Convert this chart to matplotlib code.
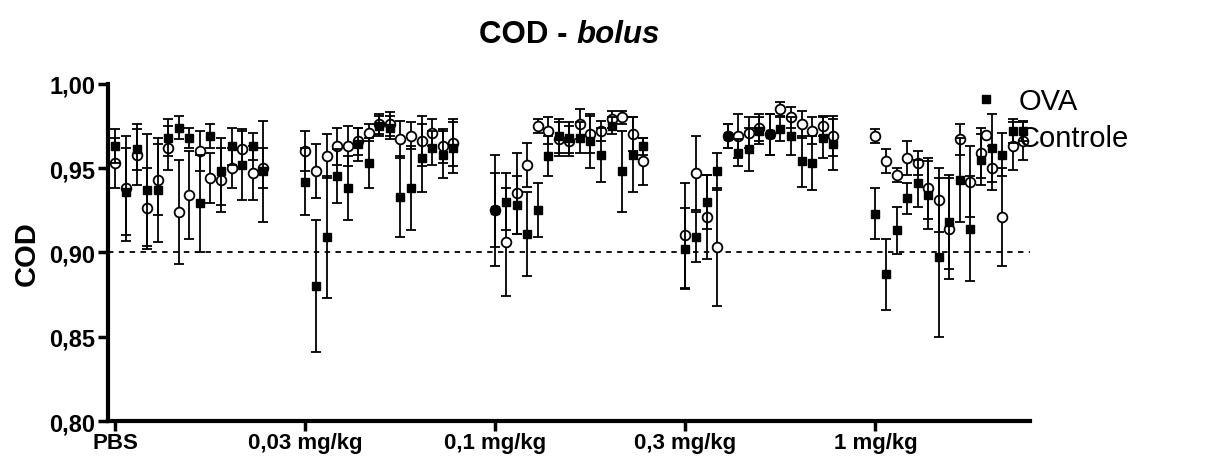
import numpy as np
import matplotlib.pyplot as plt

plt.rcParams['font.family'] = ['Liberation Sans', 'DejaVu Sans']

doses = ['PBS', '0,03 mg/kg', '0,1 mg/kg', '0,3 mg/kg', '1 mg/kg']
n_times = 15
gap = 3

# mean COD per time point, one row per dose
ova_mean = [
    [0.963, 0.936, 0.961, 0.937, 0.937, 0.968, 0.974, 0.968, 0.929, 0.969, 0.948, 0.963, 0.952, 0.963, 0.948],
    [0.942, 0.880, 0.909, 0.945, 0.938, 0.964, 0.953, 0.975, 0.974, 0.933, 0.938, 0.956, 0.962, 0.958, 0.962],
    [0.925, 0.930, 0.928, 0.911, 0.925, 0.957, 0.969, 0.968, 0.968, 0.966, 0.958, 0.975, 0.948, 0.958, 0.963],
    [0.902, 0.909, 0.930, 0.948, 0.969, 0.959, 0.961, 0.972, 0.970, 0.973, 0.969, 0.954, 0.953, 0.968, 0.964],
    [0.923, 0.887, 0.913, 0.932, 0.941, 0.934, 0.897, 0.918, 0.943, 0.914, 0.955, 0.962, 0.958, 0.972, 0.972],
]
ova_err = [
    [0.010, 0.026, 0.012, 0.033, 0.031, 0.011, 0.007, 0.006, 0.029, 0.007, 0.020, 0.011, 0.021, 0.008, 0.030],
    [0.020, 0.039, 0.036, 0.016, 0.019, 0.010, 0.015, 0.006, 0.007, 0.024, 0.025, 0.020, 0.010, 0.014, 0.015],
    [0.033, 0.017, 0.017, 0.025, 0.016, 0.012, 0.010, 0.009, 0.009, 0.016, 0.016, 0.005, 0.024, 0.022, 0.005],
    [0.024, 0.015, 0.016, 0.011, 0.007, 0.008, 0.013, 0.008, 0.012, 0.007, 0.011, 0.015, 0.016, 0.012, 0.015],
    [0.015, 0.021, 0.014, 0.009, 0.014, 0.020, 0.047, 0.028, 0.025, 0.031, 0.015, 0.020, 0.013, 0.007, 0.006],
]
ctrl_mean = [
    [0.953, 0.938, 0.958, 0.926, 0.943, 0.962, 0.924, 0.934, 0.960, 0.944, 0.943, 0.950, 0.961, 0.947, 0.950],
    [0.960, 0.948, 0.957, 0.963, 0.963, 0.966, 0.971, 0.976, 0.976, 0.967, 0.969, 0.966, 0.971, 0.963, 0.965],
    [0.925, 0.906, 0.935, 0.952, 0.975, 0.972, 0.967, 0.966, 0.976, 0.970, 0.972, 0.979, 0.980, 0.970, 0.954],
    [0.910, 0.947, 0.921, 0.903, 0.969, 0.969, 0.971, 0.974, 0.970, 0.985, 0.980, 0.976, 0.972, 0.975, 0.969],
    [0.969, 0.954, 0.946, 0.956, 0.953, 0.938, 0.931, 0.914, 0.967, 0.942, 0.959, 0.950, 0.921, 0.963, 0.966],
]
ctrl_err = [
    [0.015, 0.031, 0.018, 0.024, 0.021, 0.013, 0.031, 0.026, 0.012, 0.015, 0.019, 0.012, 0.011, 0.016, 0.012],
    [0.012, 0.016, 0.013, 0.011, 0.012, 0.008, 0.005, 0.006, 0.007, 0.011, 0.008, 0.015, 0.008, 0.010, 0.014],
    [0.022, 0.032, 0.024, 0.013, 0.004, 0.008, 0.010, 0.009, 0.009, 0.011, 0.006, 0.005, 0.004, 0.010, 0.014],
    [0.031, 0.022, 0.025, 0.035, 0.007, 0.013, 0.009, 0.008, 0.012, 0.004, 0.006, 0.008, 0.008, 0.006, 0.012],
    [0.004, 0.007, 0.004, 0.010, 0.007, 0.018, 0.019, 0.030, 0.009, 0.021, 0.015, 0.013, 0.029, 0.014, 0.011],
]

# x positions: 15 time points per dose, with a gap between doses
x = np.concatenate([np.arange(n_times) + i * (n_times + gap) for i in range(len(doses))])
dose_ticks = [i * (n_times + gap) for i in range(len(doses))]

fig = plt.figure(figsize=(12.32, 4.64), dpi=100)
ax = fig.add_axes([0.0877, 0.0905, 0.748, 0.727])

ax.axhline(0.90, color='black', linestyle=(0, (3, 3)), linewidth=1.3, zorder=1)

ax.errorbar(x, np.ravel(ctrl_mean), yerr=np.ravel(ctrl_err), fmt='o', ms=7,
            mfc='white', mec='black', mew=1.3, ecolor='black', elinewidth=1.3,
            capsize=3.5, capthick=1.3, label='Controle', zorder=3)
ax.errorbar(x, np.ravel(ova_mean), yerr=np.ravel(ova_err), fmt='s', ms=5.5,
            mfc='black', mec='black', ecolor='black', elinewidth=1.3,
            capsize=3.5, capthick=1.3, label='OVA', zorder=4)

ax.set_xlim(-0.7, 86.6)
ax.set_ylim(0.80, 1.00)
ax.set_yticks([0.80, 0.85, 0.90, 0.95, 1.00])
ax.set_yticklabels(['0,80', '0,85', '0,90', '0,95', '1,00'],
                   fontsize=17, fontweight='bold')
ax.set_xticks(dose_ticks)
ax.set_xticklabels(doses, fontsize=16, fontweight='bold')
ax.tick_params(axis='both', direction='out', width=2.5, length=7)
ax.tick_params(axis='x', pad=1)
ax.tick_params(axis='y', pad=2)

for side in ['top', 'right']:
    ax.spines[side].set_visible(False)
for side in ['left', 'bottom']:
    ax.spines[side].set_linewidth(3)

ax.set_ylabel('COD', fontsize=21, fontweight='bold', labelpad=6)

fig.text(0.468, 0.925, 'COD - ', ha='right', va='center', fontsize=22.5, fontweight='bold')
fig.text(0.468, 0.925, 'bolus', ha='left', va='center', fontsize=22.5,
         fontweight='bold', style='italic')

handles, labels = ax.get_legend_handles_labels()
leg = fig.legend([h[0] for h in handles[::-1]], labels[::-1], loc='upper left',
                 bbox_to_anchor=(0.777, 0.841), frameon=False, fontsize=21,
                 borderpad=0, handlelength=1.0, handletextpad=0.6,
                 labelspacing=0.28, markerscale=1.0)

fig.savefig('out.png', dpi=100)
